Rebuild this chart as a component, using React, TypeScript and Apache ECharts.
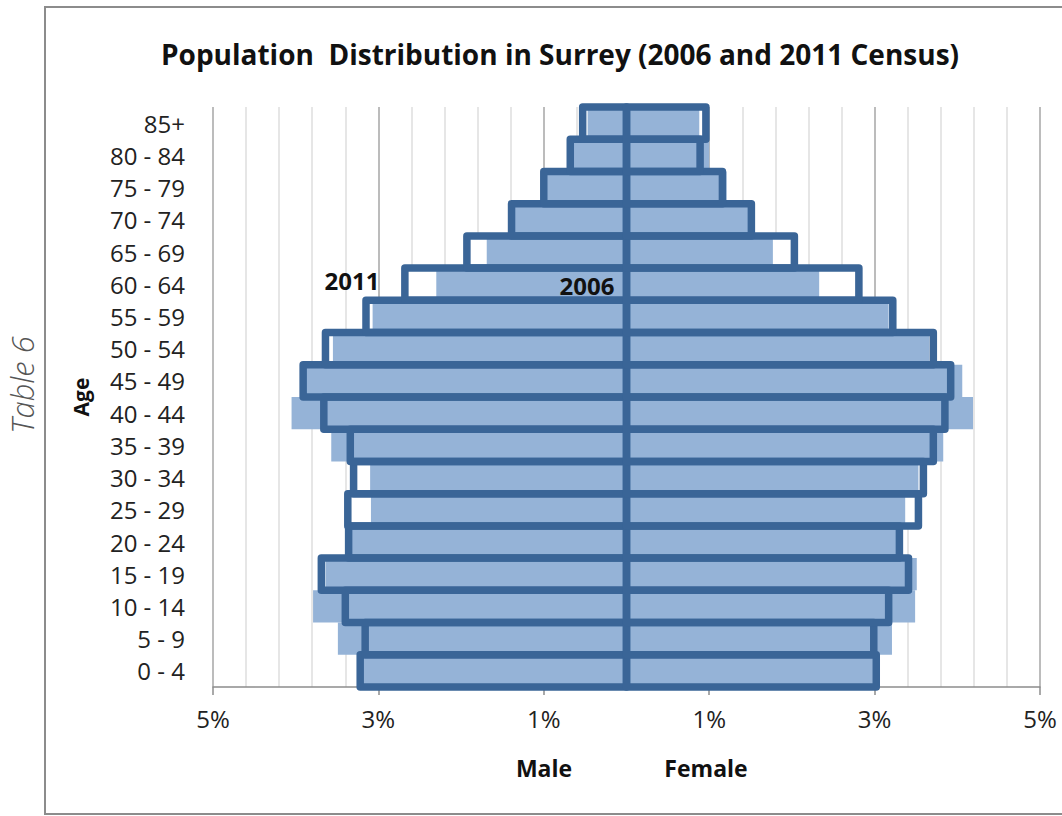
import React, { useEffect, useRef } from 'react';
import * as echarts from 'echarts';

const ageGroups = ['0 - 4', '5 - 9', '10 - 14', '15 - 19', '20 - 24', '25 - 29', '30 - 34', '35 - 39', '40 - 44', '45 - 49', '50 - 54', '55 - 59', '60 - 64', '65 - 69', '70 - 74', '75 - 79', '80 - 84', '85+'];
const male2006 = [3.18, 3.49, 3.79, 3.64, 3.33, 3.09, 3.10, 3.57, 4.05, 3.88, 3.55, 3.07, 2.30, 1.69, 1.35, 0.96, 0.65, 0.47];
const male2011 = [3.22, 3.16, 3.40, 3.69, 3.36, 3.37, 3.30, 3.34, 3.66, 3.91, 3.64, 3.15, 2.68, 1.93, 1.39, 1.00, 0.68, 0.53];
const female2006 = [2.98, 3.21, 3.49, 3.51, 3.27, 3.37, 3.53, 3.83, 4.19, 4.06, 3.66, 3.17, 2.33, 1.77, 1.48, 1.21, 1.00, 0.88];
const female2011 = [3.02, 2.99, 3.17, 3.41, 3.30, 3.53, 3.59, 3.71, 3.85, 3.92, 3.71, 3.22, 2.81, 2.03, 1.51, 1.16, 0.89, 0.96];
const tickValues = [-5, -3, -1, 1, 3, 5];

const FONT = 'Open Sans';
const FILL_2006 = '#95B3D7';
const LINE_2011 = '#3A6597';
const BAR_RATIO = 1.0;

export default function App() {
  const ref = useRef<HTMLDivElement>(null);
  useEffect(() => {
    const chart = echarts.init(ref.current as HTMLDivElement, null, { renderer: 'svg' });
    const neg = (a: number[]) => a.map((v) => -v);
    const base = { type: 'bar', barGap: '-100%', barCategoryGap: '0%', silent: true };
    const outline = (params: any, api: any) => {
      const v = api.value(0);
      const idx = api.value(1);
      const p0 = api.coord([0, idx]);
      const p1 = api.coord([v, idx]);
      const h = api.size([0, 1])[1] * BAR_RATIO;
      return {
        type: 'rect',
        shape: { x: Math.min(p0[0], p1[0]), y: p0[1] - h / 2, width: Math.abs(p1[0] - p0[0]), height: h },
        style: { fill: 'none', stroke: LINE_2011, lineWidth: 7.5, lineJoin: 'round' },
      };
    };
    chart.setOption({
      animation: false,
      textStyle: { fontFamily: FONT },
      grid: { left: 213, right: 22, top: 107, bottom: 129 },
      xAxis: [
        {
          type: 'value', min: -5, max: 5, position: 'bottom',
          axisLine: { show: true, lineStyle: { color: '#8c8c8c', width: 1.5 } },
          axisTick: { show: true, customValues: tickValues, length: 8, lineStyle: { color: '#8c8c8c', width: 1.5 } },
          axisLabel: { customValues: tickValues, formatter: (v: number) => Math.abs(v) + '%', color: '#222', fontSize: 24, margin: 19, fontFamily: FONT },
          splitLine: { show: false },
        },
        {
          type: 'value', min: 0, max: 25, interval: 1, position: 'top',
          axisLine: { show: false }, axisTick: { show: false }, axisLabel: { show: false },
          splitLine: { show: true, lineStyle: { color: ['#a6a6a6', '#dedede', '#dedede', '#dedede', '#dedede'], width: 1.5 } },
        },
      ],
      yAxis: {
        type: 'category', data: ageGroups,
        axisLine: { show: false }, axisTick: { show: false },
        axisLabel: { fontSize: 24, color: '#222', margin: 28, fontFamily: FONT },
        name: 'Age', nameLocation: 'middle', nameRotate: 90, nameGap: 122,
        nameTextStyle: { fontWeight: 'bold', fontSize: 21, color: '#111', fontFamily: FONT },
      },
      series: [
        { ...base, z: 2, name: '2011 male bg', data: neg(male2011), itemStyle: { color: '#ffffff' } },
        { ...base, z: 2, name: '2011 female bg', data: female2011, itemStyle: { color: '#ffffff' } },
        { ...base, z: 3, name: '2006 male', data: neg(male2006), itemStyle: { color: FILL_2006 } },
        { ...base, z: 3, name: '2006 female', data: female2006, itemStyle: { color: FILL_2006 } },
        { type: 'custom', z: 5, name: '2011 male', silent: true, renderItem: outline, encode: { x: 0, y: 1 }, data: male2011.map((v, i) => [-v, i]) },
        { type: 'custom', z: 5, name: '2011 female', silent: true, renderItem: outline, encode: { x: 0, y: 1 }, data: female2011.map((v, i) => [v, i]) },
      ],
      graphic: [
        { type: 'rect', z: -10, silent: true, shape: { x: 45, y: 7, width: 1040, height: 807 }, style: { fill: 'none', stroke: '#8c8c8c', lineWidth: 2 } },
        { type: 'text', x: 560, y: 54, style: { text: 'Population  Distribution in Surrey (2006 and 2011 Census)', align: 'center', verticalAlign: 'middle', fontFamily: FONT, fontWeight: 'bold', fontSize: 28, fill: '#111' } },
        { type: 'text', x: 544, y: 768, style: { text: 'Male', align: 'center', verticalAlign: 'middle', fontFamily: FONT, fontWeight: 'bold', fontSize: 23, fill: '#111' } },
        { type: 'text', x: 706, y: 768, style: { text: 'Female', align: 'center', verticalAlign: 'middle', fontFamily: FONT, fontWeight: 'bold', fontSize: 23, fill: '#111' } },
        { type: 'text', x: 352, y: 280, z: 100, style: { text: '2011', align: 'center', verticalAlign: 'middle', fontFamily: FONT, fontWeight: 'bold', fontSize: 24, fill: '#111' } },
        { type: 'text', x: 587, y: 285, z: 100, style: { text: '2006', align: 'center', verticalAlign: 'middle', fontFamily: FONT, fontWeight: 'bold', fontSize: 24, fill: '#111' } },
        { type: 'text', x: 22, y: 385, rotation: Math.PI / 2, style: { text: 'Table 6', align: 'center', verticalAlign: 'middle', fontFamily: FONT, fontStyle: 'italic', fontWeight: 300, fontSize: 31, fill: '#555' } },
      ],
    });
    return () => chart.dispose();
  }, []);
  return <div ref={ref} style={{ position: 'absolute', left: 0, top: 0, width: 1062, height: 816, background: '#fff' }} />;
}
